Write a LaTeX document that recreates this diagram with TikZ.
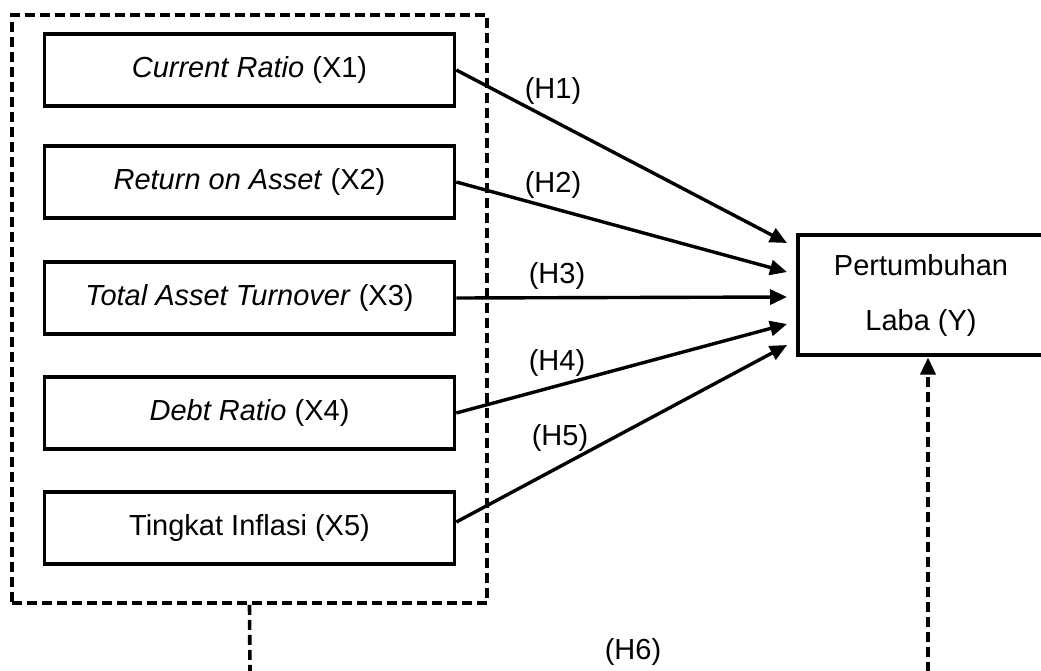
\documentclass[tikz,border=0pt]{standalone}
\usepackage{fontspec}
\setmainfont{Liberation Sans}
\usetikzlibrary{arrows.meta}
\begin{document}
\begin{tikzpicture}[x=1pt,y=-1pt,
  every node/.style={font=\fontsize{29}{55}\selectfont, inner sep=0pt},
  varbox/.style={draw, line width=3.6pt, minimum width=410pt, minimum height=72pt},
  ybox/.style={draw, line width=3.6pt, minimum width=246pt, minimum height=120pt, align=center},
  groupbox/.style={draw, line width=3.6pt, dash pattern=on 10pt off 5pt},
  conn/.style={line width=3.4pt, -{Triangle[length=17pt,width=15pt]}},
  dconn/.style={line width=3.6pt, dash pattern=on 10pt off 5pt},
  lbl/.style={}]
\useasboundingbox (0,0) rectangle (1041,670);

\node[groupbox, minimum width=475pt, minimum height=588pt] (grp) at (249.5,309) {};

\node[varbox] (x1) at (249.5,70) {\textit{Current Ratio} (X1)};
\node[varbox] (x2) at (249.5,182) {\textit{Return on Asset} (X2)};
\node[varbox] (x3) at (249.5,298) {\textit{Total Asset Turnover} (X3)};
\node[varbox] (x4) at (249.5,413) {\textit{Debt Ratio} (X4)};
\node[varbox] (x5) at (249.5,528) {Tingkat Inflasi (X5)};

\node[ybox] (y) at (921,295) {Pertumbuhan\\Laba (Y)};

\coordinate (t1) at (787,243);
\coordinate (t2) at (787,272);
\coordinate (t3) at (787,297);
\coordinate (t4) at (787,324);
\coordinate (t5) at (787,345);

\draw[conn] (x1.east) -- (t1);
\draw[conn] (x2.east) -- (t2);
\draw[conn] (x3.east) -- (t3);
\draw[conn] (x4.east) -- (t4);
\draw[conn] ([yshift=6pt]x5.east) -- (t5);

\node[lbl] (h1) at (553,91) {(H1)};
\node[lbl] (h2) at (553,185) {(H2)};
\node[lbl] (h3) at (557,276) {(H3)};
\node[lbl] (h4) at (557,363) {(H4)};
\node[lbl] (h5) at (560,438) {(H5)};
\node[lbl] (h6) at (633,652) {(H6)};

\coordinate (gb) at (250,672);
\coordinate (yb) at (928,672);
\draw[dconn] (grp.south) -- (gb);
\draw[dconn, -{Triangle[length=17pt,width=15pt]}] (yb) -- (928,357.5);
\end{tikzpicture}
\end{document}
